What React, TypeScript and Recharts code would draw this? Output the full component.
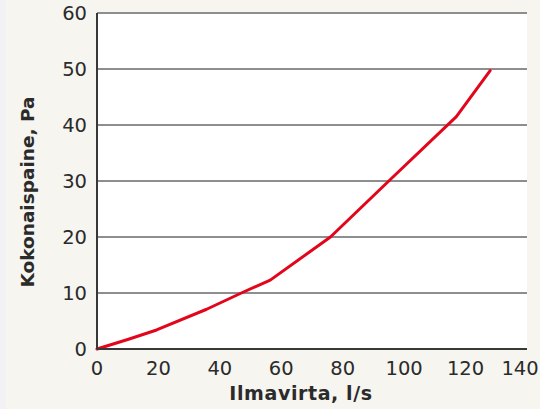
import { LineChart, Line, XAxis, YAxis, CartesianGrid, Label } from 'recharts';

// airflow (l/s) vs total pressure (Pa)
const airflow = [0, 10, 19.4, 35.7, 47, 56.4, 76, 95, 117, 128];
const pressure = [0, 1.7, 3.4, 7.1, 10, 12.3, 20, 30, 41.5, 49.7];

const xTicks = [0, 20, 40, 60, 80, 100, 120, 140];
const yTicks = [0, 10, 20, 30, 40, 50, 60];

const xTitle = 'Ilmavirta, l/s';
const yTitle = 'Kokonaispaine, Pa';

const data = airflow.map((x, i) => ({ x, y: pressure[i] }));

const font = '"DejaVu Sans", sans-serif';
const ink = '#2b2b2b';
const border = '#383838';

function XTick(props: any) {
  const { x, y, payload, index } = props;
  // last label would run off the right edge, nudge it in a bit
  const dx = index === xTicks.length - 1 ? -7 : 0;
  return (
    <text x={x + dx} y={y} dy="0.71em" textAnchor="middle" fill={ink} fontFamily={font} fontSize={19.5}>
      {payload.value}
    </text>
  );
}

function YTitle(props: any) {
  const vb = props.viewBox || { x: 0, y: 0, width: 0, height: 0 };
  const cx = vb.x + 27;
  const cy = vb.y + vb.height / 2 + 11;
  return (
    <text
      x={cx}
      y={cy}
      transform={`rotate(-90 ${cx} ${cy})`}
      textAnchor="middle"
      dominantBaseline="central"
      fill={ink}
      fontFamily={font}
      fontWeight="bold"
      fontSize={18.5}
    >
      {yTitle}
    </text>
  );
}

function XTitle(props: any) {
  const vb = props.viewBox || { x: 0, y: 0, width: 0, height: 0 };
  return (
    <text
      x={vb.x + vb.width / 2 - 11}
      y={vb.y + 51}
      textAnchor="middle"
      fill={ink}
      fontFamily={font}
      fontWeight="bold"
      fontSize={19}
      letterSpacing={0.6}
    >
      {xTitle}
    </text>
  );
}

export default function App() {
  const tick = { fill: ink, fontSize: 19.5, fontFamily: font };
  return (
    <div style={{ position: 'absolute', left: 0, top: 0, width: 540, height: 409, background: '#f6f5ef' }}>
      <div style={{ position: 'absolute', left: 0, top: 0, width: 6, height: 409, background: '#f2f2f4' }} />
      <div style={{ position: 'absolute', left: 0, top: 0 }}>
        <LineChart width={540} height={409} data={data} margin={{ top: 13, right: 13, bottom: 0, left: 0 }}>
          <CartesianGrid vertical={false} stroke="#8e8e8e" strokeWidth={2} fill="#ffffff" />
          <XAxis
            dataKey="x"
            type="number"
            domain={[0, 140]}
            ticks={xTicks}
            height={60}
            tickSize={0}
            tickMargin={12}
            tick={<XTick />}
            axisLine={{ stroke: border, strokeWidth: 2 }}
            interval={0}
          >
            <Label content={<XTitle />} />
          </XAxis>
          <XAxis xAxisId="top" orientation="top" type="number" domain={[0, 140]} height={0} tick={false} tickLine={false} axisLine={{ stroke: border, strokeWidth: 2 }} />
          <YAxis
            type="number"
            domain={[0, 60]}
            ticks={yTicks}
            width={97}
            tickSize={0}
            tickMargin={10}
            tick={tick}
            axisLine={{ stroke: border, strokeWidth: 2 }}
            interval={0}
          >
            <Label content={<YTitle />} />
          </YAxis>
          <YAxis yAxisId="right" orientation="right" type="number" domain={[0, 60]} width={0} tick={false} tickLine={false} axisLine={{ stroke: border, strokeWidth: 2 }} />
          <Line
            type="linear"
            dataKey="y"
            stroke="#e2051b"
            strokeWidth={3}
            dot={false}
            activeDot={false}
            strokeLinejoin="round"
            strokeLinecap="round"
            isAnimationActive={false}
          />
        </LineChart>
      </div>
    </div>
  );
}
